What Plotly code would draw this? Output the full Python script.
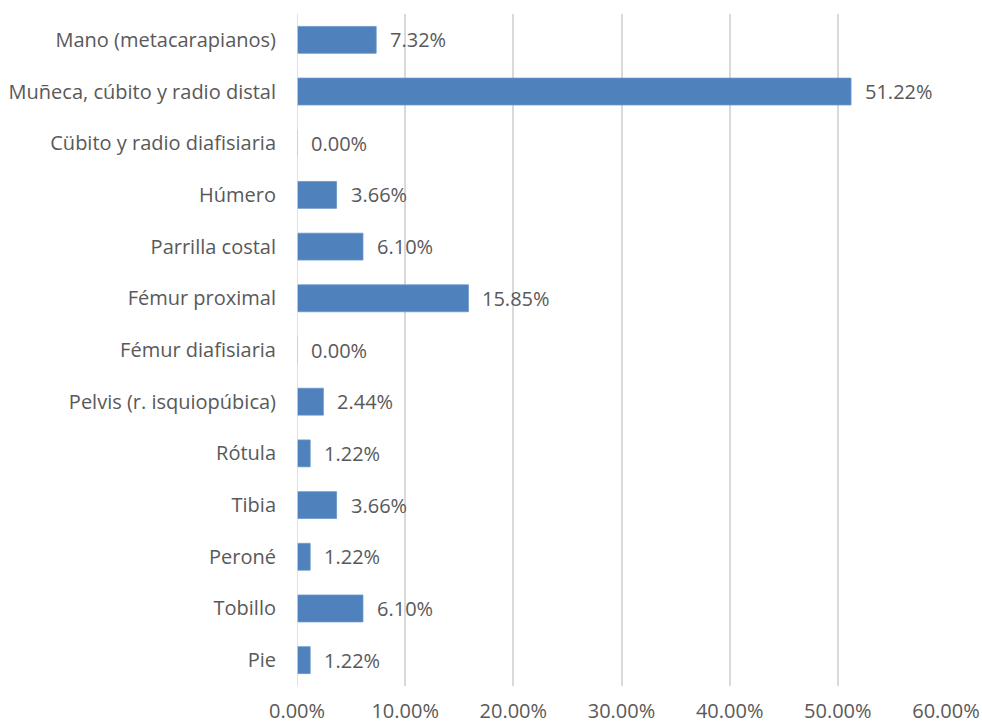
import plotly.graph_objects as go

categorias = [
    "Mano (metacarapianos)",
    "Muñeca, cúbito y radio distal",
    "Cübito y radio diafisiaria",
    "Húmero",
    "Parrilla costal",
    "Fémur proximal",
    "Fémur diafisiaria",
    "Pelvis (r. isquiopúbica)",
    "Rótula",
    "Tibia",
    "Peroné",
    "Tobillo",
    "Pie",
]
porcentajes = [7.32, 51.22, 0.00, 3.66, 6.10, 15.85, 0.00, 2.44, 1.22, 3.66, 1.22, 6.10, 1.22]

valores = [p / 100 for p in porcentajes]
etiquetas = [f"{p:.2f}%" for p in porcentajes]

FUENTE = "'Open Sans', sans-serif"
TAM = 20
GRIS_TEXTO = "#595959"

fig = go.Figure(
    go.Bar(
        x=valores,
        y=categorias,
        orientation="h",
        marker=dict(color="#4F81BD", line=dict(color="#6a95c8", width=0.8)),
        width=0.52,
        hoverinfo="x+y",
    )
)

for v, cat, txt in zip(valores, categorias, etiquetas):
    fig.add_annotation(
        x=v, y=cat, text=txt, showarrow=False,
        xanchor="left", yanchor="middle", xshift=12,
        font=dict(family=FUENTE, size=TAM, color=GRIS_TEXTO),
    )

fig.update_layout(
    width=982, height=725,
    margin=dict(l=297, r=36, t=14, b=39),
    plot_bgcolor="white", paper_bgcolor="white",
    showlegend=False,
    font=dict(family=FUENTE, size=TAM, color=GRIS_TEXTO),
    xaxis=dict(
        range=[0, 0.6], dtick=0.1, tickformat=".2%",
        showgrid=True, gridcolor="#d9d9d9", gridwidth=1.5,
        zeroline=False, showline=False,
        ticks="", ticklabelstandoff=11, automargin=False,
        tickfont=dict(family=FUENTE, size=TAM, color=GRIS_TEXTO),
        fixedrange=True,
    ),
    yaxis=dict(
        autorange="reversed",
        categoryorder="array", categoryarray=categorias,
        showgrid=False, zeroline=False,
        showline=False, automargin=False,
        ticks="", ticklabelstandoff=20,
        tickfont=dict(family=FUENTE, size=TAM, color=GRIS_TEXTO),
        fixedrange=True,
    ),
    bargap=0.48,
)

# Eje vertical en 0 (mismo gris que la cuadrícula)
fig.add_shape(type="line", xref="x", yref="paper", x0=0, x1=0, y0=0, y1=1,
              line=dict(color="#d9d9d9", width=1.5), layer="above")

fig.write_html("out.html")
